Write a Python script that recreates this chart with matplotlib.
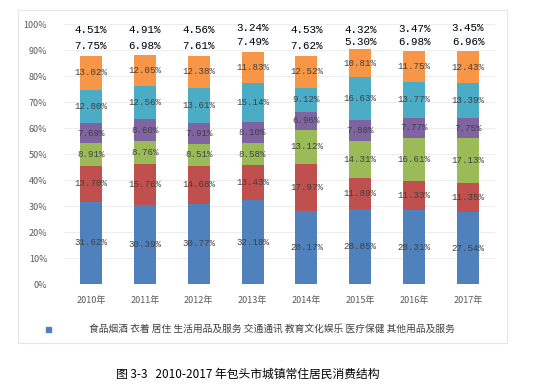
import numpy as np
import matplotlib.pyplot as plt
from matplotlib.patches import Rectangle

plt.rcParams['font.family'] = ['Noto Sans CJK SC', 'DejaVu Sans']

years = ['2010年', '2011年', '2012年', '2013年', '2014年', '2015年', '2016年', '2017年']
categories = ['食品烟酒', '衣着', '居住', '生活用品及服务', '交通通讯',
              '教育文化娱乐', '医疗保健', '其他用品及服务']

food = [31.62, 30.39, 30.77, 32.18, 28.17, 28.85, 28.31, 27.54]
clothing = [13.70, 15.76, 14.68, 13.43, 17.97, 11.89, 11.33, 11.35]
housing = [8.91, 8.76, 8.51, 8.58, 13.12, 14.31, 16.61, 17.13]
goods = [7.69, 8.60, 7.91, 8.10, 6.96, 7.88, 7.77, 7.75]
transport = [12.80, 12.56, 13.61, 15.14, 9.12, 16.63, 13.77, 13.39]
education = [13.02, 12.05, 12.38, 11.83, 12.52, 10.81, 11.75, 12.43]
medical = [7.75, 6.98, 7.61, 7.49, 7.62, 5.30, 6.98, 6.96]
other = [4.51, 4.91, 4.56, 3.24, 4.53, 4.32, 3.47, 3.45]

series = [food, clothing, housing, goods, transport, education, medical, other]
colors = ['#4F81BD', '#C0504D', '#9BBB59', '#8064A2', '#4BACC6', '#F79646',
          '#F8FAFD', '#F8FAFD']

fig = plt.figure(figsize=(5.6, 3.85), dpi=100)
fig.patches.append(Rectangle((18 / 560, 1 - 343 / 385), 489 / 560, 333 / 385,
                             transform=fig.transFigure, fill=False,
                             edgecolor='#E6E6E6', linewidth=0.8))
ax = fig.add_axes([64 / 560, 1 - 284 / 385, 431 / 560, 260 / 385])

x = np.arange(len(years))
bottom = np.zeros(len(years))
for i, vals in enumerate(series):
    v = np.array(vals) / 100
    ax.bar(x, v, 0.41, bottom=bottom, color=colors[i], zorder=2)
    for xi, b, h, raw in zip(x, bottom, v, vals):
        if i >= 6:
            ax.text(xi, b + h / 2, f'{raw:.2f}%', ha='center', va='center',
                    fontsize=7.8, family='Liberation Mono', color='black', zorder=3)
        else:
            ax.text(xi, b + h / 2, f'{raw:.2f}%', ha='center', va='center',
                    fontsize=6.6, family='Liberation Mono', color='#404040', zorder=3)
    bottom += v

ax.set_xlim(-0.5, len(years) - 0.5)
ax.set_ylim(0, 1)
ax.set_yticks(np.arange(0, 1.01, 0.1))
ax.set_yticklabels([f'{int(round(t * 100))}%' for t in np.arange(0, 1.01, 0.1)])
ax.set_xticks(x)
ax.set_xticklabels(years)
ax.tick_params(length=0, labelsize=6.5, colors='#595959', pad=9)
ax.tick_params(axis='y', pad=12)
ax.grid(axis='y', color='#EDEDED', linewidth=0.8, zorder=0)
for s in ax.spines.values():
    s.set_visible(False)

# legend (as drawn in the source, markers overlapping text)
fig.patches.append(Rectangle((46 / 560, 1 - 332 / 385), 5 / 560, 5 / 385,
                             transform=fig.transFigure, color='#4F81BD'))
fig.text(89 / 560, 1 - 329 / 385, ' '.join(categories), fontsize=7,
         color='#404040', va='center', ha='left')

fig.text(248 / 560, 1 - 374 / 385, '图 3-3   2010-2017 年包头市城镇常住居民消费结构',
         fontsize=8.5, ha='center', va='center', color='black')

fig.savefig('out.png', dpi=100)
